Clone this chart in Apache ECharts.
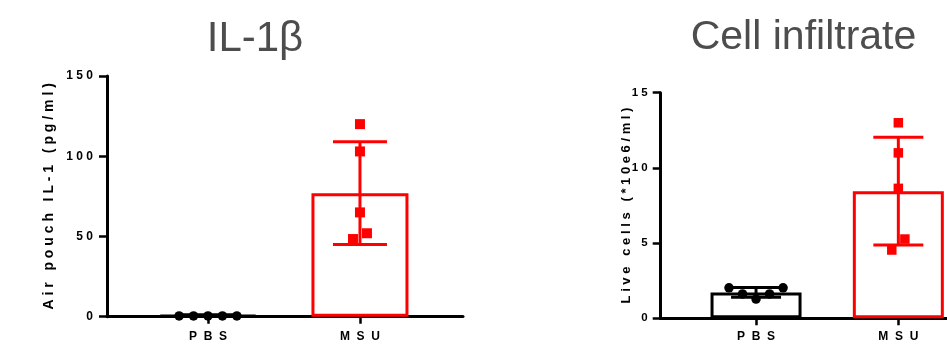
<!DOCTYPE html>
<html><head><meta charset="utf-8">
<script src="https://cdn.jsdelivr.net/npm/echarts@6/dist/echarts.min.js"></script>
<style>html,body{margin:0;padding:0;background:#fff}#c{width:947px;height:350px}</style>
</head><body><div id="c"></div>
<script>
// ---- data ----
const categories = ['PBS', 'MSU'];
const titles = ['IL-1β', 'Cell infiltrate'];
const yNames = ['Air pouch IL-1 (pg/ml)', 'Live cells (*10e6/ml)'];
const il1PBS = [0.5, 0.5, 0.5, 0.5, 0.5];
const il1MSU = [120, 103, 65, 52, 48.4];
const il1Mean = [1.0, 77];
const il1SD = [0, 32];
const il1Ticks = [0, 50, 100, 150];
const cellPBS = [2.03, 1.62, 1.28, 1.62, 2.03];
const cellMSU = [13.0, 11.0, 8.64, 5.27, 4.54];
const cellMean = [1.72, 8.45];
const cellSD = [0.32, 3.58];
const cellTicks = [0, 5, 10, 15];

// ---- layout / style constants ----
const JIT_PBS = [-0.19, -0.095, 0, 0.095, 0.19];
const JIT_MSU = [0, 0, 0, 0.046, -0.046];
const RED = '#ff0000', BLACK = '#000000';
const FONT = 'Liberation Sans, Arial, Helvetica, sans-serif';

function spaced(s) {
  return s.split(' ').map(w => w.split('').join(' ')).join('   ');
}

const chart = echarts.init(document.getElementById('c'), null, {renderer: 'canvas'});

const panels = [
  {grid: {left: 107, top: 76, width: 356, height: 240.7}, xmin: -0.6645, xmax: 1.678,
   ticks: il1Ticks, pbs: il1PBS, msu: il1MSU, mean: il1Mean, sd: il1SD, name: yNames[0],
   barW: 97, cap: 27, sq: 10, circ: 9.5, fs: 12, nfs: 14, nameGap: 51, labMargin: 14, xLabMargin: 14},
  {grid: {left: 660.7, top: 92.7, width: 286.3, height: 225.6}, xmin: -0.67, xmax: 1.342,
   ticks: cellTicks, pbs: cellPBS, msu: cellMSU, mean: cellMean, sd: cellSD, name: yNames[1],
   barW: 91, cap: 25, sq: 9.5, circ: 9.5, fs: 11.5, nfs: 13, nameGap: 28, labMargin: 13, xLabMargin: 12}
];

const grids = [], xAxes = [], yAxes = [], series = [];
panels.forEach((p, i) => {
  grids.push(p.grid);
  xAxes.push({
    type: 'value', gridIndex: i, min: p.xmin, max: p.xmax,
    splitLine: {show: false},
    axisLine: {show: true, onZero: false, lineStyle: {color: BLACK, width: 3}},
    axisTick: {show: true, length: 7, lineStyle: {color: BLACK, width: 2.5}, customValues: [0, 1]},
    axisLabel: {show: true, customValues: [0, 1], margin: p.xLabMargin,
      formatter: v => spaced(categories[Math.round(v)]).replace(/ /g, '  '),
      color: BLACK, fontWeight: 'bold', fontSize: 12, fontFamily: FONT}
  });
  yAxes.push({
    type: 'value', gridIndex: i, min: p.ticks[0], max: p.ticks[p.ticks.length - 1],
    interval: p.ticks[1] - p.ticks[0],
    splitLine: {show: false},
    axisLine: {show: true, onZero: false, lineStyle: {color: BLACK, width: 3}},
    axisTick: {show: true, length: 8, lineStyle: {color: BLACK, width: 2.5}},
    axisLabel: {margin: p.labMargin, formatter: v => String(v).split('').join(' '),
      color: BLACK, fontWeight: 'bold', fontSize: p.fs, fontFamily: FONT},
    name: spaced(p.name), nameLocation: 'middle', nameGap: p.nameGap, nameMoveOverlap: false,
    nameTextStyle: {color: BLACK, fontWeight: 'bold', fontSize: p.nfs, fontFamily: FONT}
  });
  const colors = [BLACK, RED];
  // bars
  series.push({
    type: 'bar', xAxisIndex: i, yAxisIndex: i, barWidth: p.barW, z: 2, silent: true,
    data: p.mean.map((m, k) => ({value: [k, m],
      itemStyle: {color: 'rgba(255,255,255,0)', borderColor: colors[k], borderWidth: 3}}))
  });
  // error bars (mean ± SD)
  series.push({
    type: 'custom', xAxisIndex: i, yAxisIndex: i, z: 3, silent: true,
    data: p.mean.map((m, k) => [k, m - p.sd[k], m + p.sd[k]]),
    renderItem: (params, api) => {
      const k = params.dataIndex;
      const x = api.value(0);
      const lo = api.coord([x, api.value(1)]);
      const hi = api.coord([x, api.value(2)]);
      const st = {stroke: colors[k], lineWidth: 3};
      return {type: 'group', children: [
        {type: 'line', shape: {x1: lo[0], y1: lo[1], x2: hi[0], y2: hi[1]}, style: st},
        {type: 'line', shape: {x1: hi[0] - p.cap, y1: hi[1], x2: hi[0] + p.cap, y2: hi[1]}, style: st},
        {type: 'line', shape: {x1: lo[0] - p.cap, y1: lo[1], x2: lo[0] + p.cap, y2: lo[1]}, style: st}
      ]};
    }
  });
  // points
  series.push({
    type: 'scatter', xAxisIndex: i, yAxisIndex: i, z: 4, silent: true,
    symbol: 'circle', symbolSize: p.circ, itemStyle: {color: BLACK, opacity: 1},
    data: p.pbs.map((v, j) => [0 + JIT_PBS[j], v])
  });
  series.push({
    type: 'scatter', xAxisIndex: i, yAxisIndex: i, z: 4, silent: true,
    symbol: 'rect', symbolSize: p.sq, itemStyle: {color: RED, opacity: 1},
    data: p.msu.map((v, j) => [1 + JIT_MSU[j], v])
  });
});

chart.setOption({
  animation: false,
  backgroundColor: '#ffffff',
  grid: grids, xAxis: xAxes, yAxis: yAxes, series: series,
  graphic: [
    {type: 'text', x: 255, y: 39, style: {text: titles[0], fill: '#4d4d4d',
      font: '42px ' + FONT, align: 'center', verticalAlign: 'middle'}},
    {type: 'text', x: 803.5, y: 37.5, style: {text: titles[1], fill: '#4d4d4d',
      font: '41px ' + FONT, align: 'center', verticalAlign: 'middle'}}
  ]
});
</script></body></html>
